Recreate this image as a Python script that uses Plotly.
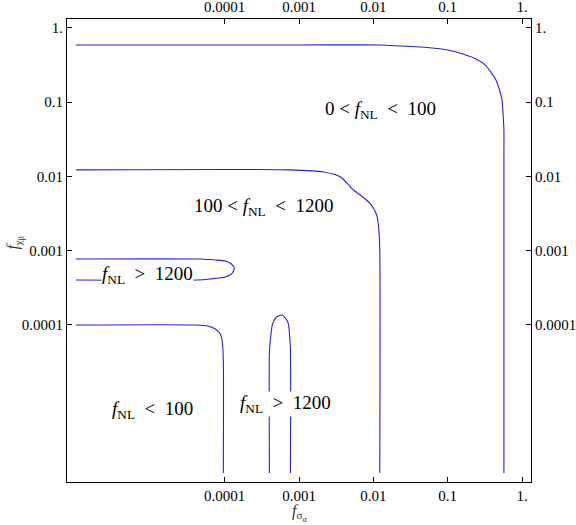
import numpy as np
import plotly.graph_objects as go

# ---- data ----
tick_vals = [1e-4, 1e-3, 1e-2, 1e-1, 1.0]
tick_text = ["0.0001", "0.001", "0.01", "0.1", "1."]

curve_a_x = [1e-6, 1.05e-3, 0.0125, 0.0233, 0.0434, 0.100, 0.160, 0.225, 0.306, 0.381, 0.445, 0.489, 0.537, 0.553, 0.570, 0.570, 0.570]
curve_a_y = [0.589, 0.589, 0.589, 0.570, 0.553, 0.504, 0.445, 0.393, 0.327, 0.254, 0.199, 0.155, 0.107, 0.0736, 0.0421, 0.0213, 1e-6]

curve_b_x = [1e-6, 7.67e-4, 2.14e-3, 3.62e-3, 5.42e-3, 7.18e-3, 9.2e-3, 0.0111, 0.0118, 0.0122, 0.0122]
curve_b_y = [0.0122, 0.0122, 0.0114, 9.8e-3, 6.54e-3, 5.26e-3, 4.23e-3, 3.01e-3, 2.01e-3, 1.02e-3, 1e-6]

curve_c_x = [1e-6, 4.7e-5, 7.5e-5, 1.02e-4, 1.23e-4, 1.35e-4, 1.27e-4, 1.02e-4, 6.41e-5, 4.28e-5, 1e-6]
curve_c_y = [7.67e-4, 7.67e-4, 7.45e-4, 7.22e-4, 6.58e-4, 5.81e-4, 4.97e-4, 4.40e-4, 4.13e-4, 4.0e-4, 4.0e-4]

curve_d_x = [1e-6, 4.03e-5, 5.85e-5, 7.5e-5, 8.75e-5, 9.31e-5, 9.6e-5, 9.6e-5]
curve_d_y = [9.9e-5, 9.9e-5, 9.6e-5, 8.75e-5, 7.5e-5, 5.85e-5, 3.34e-5, 1e-6]

curve_e_x = [7.67e-4, 7.67e-4, 7.45e-4, 7.22e-4, 6.58e-4, 5.81e-4, 4.97e-4, 4.40e-4, 4.13e-4, 4.0e-4, 4.0e-4]
curve_e_y = [1e-6, 4.7e-5, 7.5e-5, 1.02e-4, 1.23e-4, 1.35e-4, 1.27e-4, 1.02e-4, 6.41e-5, 4.28e-5, 1e-6]

NB = "\u00a0"
FNL = "<i>f</i><sub>NL</sub>"
label_text = [
    "0" + NB + "&lt;" + NB + FNL + NB + NB + "&lt;" + NB + NB + "100",
    "100" + NB + "&lt;" + NB + FNL + NB + NB + "&lt;" + NB + NB + "1200",
    FNL + NB + NB + "&gt;" + NB + NB + "1200",
    FNL + NB + NB + "&lt;" + NB + NB + "100",
    FNL + NB + NB + "&gt;" + NB + NB + "1200",
]
label_x = [0.0125, 3.33e-4, 9.1e-6, 1.06e-5, 6.58e-4]
label_y = [0.0783, 3.85e-3, 4.68e-4, 7.08e-6, 8.53e-6]
label_bg = ["rgba(0,0,0,0)", "rgba(0,0,0,0)", "white", "rgba(0,0,0,0)", "white"]

x_range = [-6.12, 0.12]
y_range = [-6.12, 0.12]

LINE_COLOR = "#2424d6"
SERIF = "Liberation Serif, Times New Roman, serif"

fig = go.Figure()
for cx, cy in [(curve_a_x, curve_a_y), (curve_b_x, curve_b_y), (curve_c_x, curve_c_y),
               (curve_d_x, curve_d_y), (curve_e_x, curve_e_y)]:
    fig.add_trace(go.Scatter(x=cx, y=cy, mode="lines",
                             line=dict(color=LINE_COLOR, width=1.1, shape="spline", smoothing=0.6),
                             showlegend=False, hoverinfo="skip"))

# invisible trace to activate the mirrored top/right axes
fig.add_trace(go.Scatter(x=curve_a_x, y=curve_a_y, xaxis="x2", yaxis="y2", mode="lines",
                         line=dict(width=0), opacity=0, showlegend=False, hoverinfo="skip"))

axis_common = dict(type="log", tickvals=tick_vals, ticktext=tick_text, ticks="inside",
                   ticklen=5, tickcolor="black", tickwidth=1, showgrid=False, zeroline=False,
                   showline=True, linecolor="black", linewidth=1, automargin=False,
                   tickfont=dict(family=SERIF, size=15, color="black"))

fig.update_layout(
    width=576, height=525,
    margin=dict(l=67, r=45, t=19, b=43, autoexpand=False),
    paper_bgcolor="white", plot_bgcolor="white",
    xaxis=dict(range=x_range, mirror=False, side="bottom", **axis_common),
    yaxis=dict(range=y_range, mirror=False, side="left", **axis_common),
    xaxis2=dict(range=x_range, overlaying="x", side="top", anchor="y", **axis_common),
    yaxis2=dict(range=y_range, overlaying="y", side="right", anchor="x", **axis_common),
)

for t, lx, ly, bg in zip(label_text, label_x, label_y, label_bg):
    fig.add_annotation(x=np.log10(lx), y=np.log10(ly), xref="x", yref="y", text=t,
                       showarrow=False, bgcolor=bg, borderpad=0,
                       font=dict(family=SERIF, size=19, color="black"))

fig.add_annotation(x=0.5, y=-0.095, xref="paper", yref="paper",
                   text="<i>f</i><sub>σ<sub>α</sub></sub>", showarrow=False,
                   font=dict(family=SERIF, size=16, color="#333333"))
fig.add_annotation(x=-0.14, y=0.515, xref="paper", yref="paper", textangle=-90,
                   text="<i>f</i><sub>χ<sub>β</sub></sub>", showarrow=False,
                   font=dict(family=SERIF, size=16, color="#333333"))

# remove the default 8px page margin so the figure sits at the window origin
fig.write_html("out.html", config={"displayModeBar": False},
               post_script="document.body.style.margin='0';")
